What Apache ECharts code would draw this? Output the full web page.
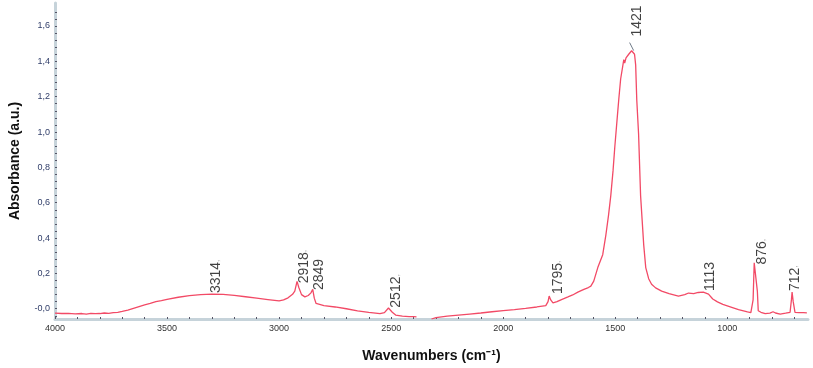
<!DOCTYPE html>
<html>
<head>
<meta charset="utf-8">
<script src="https://cdn.jsdelivr.net/npm/echarts@6/dist/echarts.min.js"></script>
<style>html,body{margin:0;padding:0;background:#fff;}#c{width:813px;height:368px;}</style>
</head>
<body>
<div id="c"></div>
<script>
// wavenumbers (cm-1) and absorbance; null marks the gap in the spectrum
var wavenumbers = [4000,3970,3940,3910,3880,3860,3840,3820,3800,3780,3760,3740,3720,3700,3675,3650,3625,3600,3575,3550,3525,3500,3450,3400,3350,3300,3250,3200,3150,3100,3050,3000,2980,2960,2940,2930,2920,2912,2900,2885,2870,2858,2850,2843,2835,2800,2750,2700,2650,2600,2550,2530,2512,2495,2480,2450,2420,2400,2387,
  2350,
  2320,2300,2250,2200,2150,2100,2050,2000,1950,1900,1850,1810,1800,1795,1788,1778,1760,1740,1711,1690,1667,1640,1620,1609,1596,1578,1556,1542,1530,1520,1510,1502,1490,1484,1476,1467,1462,1458,1452,1445,1440,1432,1427,1421,1414,1409,1404,1396,1387,1380,1373,1364,1351,1338,1320,1293,1260,1218,1190,1173,1150,1130,1107,1084,1065,1044,1020,987,950,910,895,885,880,872,866,862,850,831,810,796,785,764,740,720,714,711,706,698,680,660,645];
var absorbance = [-0.025,-0.027,-0.026,-0.029,-0.027,-0.031,-0.026,-0.028,-0.027,-0.024,-0.026,-0.022,-0.020,-0.015,-0.008,0.002,0.012,0.022,0.030,0.040,0.046,0.053,0.065,0.074,0.080,0.083,0.081,0.076,0.068,0.060,0.052,0.044,0.050,0.062,0.082,0.100,0.155,0.120,0.080,0.067,0.075,0.090,0.110,0.060,0.030,0.018,0.010,0.000,-0.012,-0.020,-0.027,-0.022,0.004,-0.020,-0.036,-0.042,-0.044,-0.045,-0.046,
  null,
  -0.058,-0.050,-0.042,-0.036,-0.030,-0.024,-0.017,-0.011,-0.005,0.002,0.010,0.018,0.040,0.072,0.050,0.033,0.040,0.052,0.067,0.078,0.094,0.110,0.120,0.128,0.156,0.233,0.306,0.417,0.53,0.64,0.78,0.917,1.10,1.19,1.30,1.37,1.41,1.39,1.42,1.43,1.44,1.45,1.46,1.465,1.44,1.38,1.18,0.99,0.64,0.50,0.36,0.233,0.17,0.139,0.118,0.100,0.085,0.072,0.080,0.089,0.085,0.092,0.094,0.083,0.055,0.039,0.025,0.011,-0.005,-0.018,-0.022,0.05,0.26,0.25,0.10,-0.011,-0.020,-0.028,-0.025,-0.017,-0.024,-0.030,-0.025,-0.020,0.05,0.094,0.04,-0.020,-0.022,-0.022,-0.023];

// peak annotations: label text, anchor wavenumber, anchor absorbance, trailing mark
var peakLabels = ['3314','2918','2849','2512','1795','1421','1113','876','712'];
var peakX = [3280,2889,2822,2476,1756,1404,1076,844,698];
var peakY = [0.089,0.144,0.106,0.006,0.083,1.54,0.10,0.25,0.10];
var peakMark = [',',',','',',',',','','',',',','];

// leader line for 1421
var leaderX = [1418,1436];
var leaderY = [1.461,1.506];

var yTickLabels = [0,0.2,0.4,0.6,0.8,1.0,1.2,1.4,1.6];
var xTickLabels = [4000,3500,3000,2500,2000,1500,1000];

var yMinor = [];
for (var v = -0.04; v <= 1.72; v += 0.04) yMinor.push(Math.round(v*100)/100);
var xMinor = [];
for (var w = 700; w <= 4000; w += 100) xMinor.push(w);

var lineData = wavenumbers.map(function(x,i){
  return absorbance[i] === null ? ['-','-'] : [x, absorbance[i]];
});
var labelData = peakLabels.map(function(t,i){ return {value:[peakX[i], peakY[i]], name:t, mark:peakMark[i]}; });

var chart = echarts.init(document.getElementById('c'));
chart.setOption({
  animation: false,
  grid: {left: 52, right: 5, top: 3, bottom: 43},
  xAxis: {
    type: 'value', inverse: true, min: 640, max: 4000,
    name: 'Wavenumbers (cm\u207B\u00B9)', nameLocation: 'middle', nameGap: 30,
    nameTextStyle: {fontFamily: 'Liberation Sans, Arial', fontWeight: 'bold', fontSize: 14, color: '#111'},
    axisLine: {show: true, onZero: false, lineStyle: {color: '#c6d3da', width: 3}},
    axisTick: {show: true, inside: true, length: 2, customValues: xMinor, lineStyle: {color: '#556', width: 1}},
    axisLabel: {customValues: xTickLabels, fontSize: 9, fontFamily: 'Liberation Sans, Arial', color: '#333', margin: 5,
      formatter: function(v){ return String(v); }},
    splitLine: {show: false}
  },
  yAxis: {
    type: 'value', min: -0.058, max: 1.73,
    name: 'Absorbance (a.u.)', nameLocation: 'middle', nameGap: 33,
    nameTextStyle: {fontFamily: 'Liberation Sans, Arial', fontWeight: 'bold', fontSize: 14, color: '#111'},
    axisLine: {show: true, onZero: false, lineStyle: {color: '#c6d3da', width: 3}},
    axisTick: {show: true, inside: true, length: 2, customValues: yMinor, lineStyle: {color: '#556', width: 1}},
    axisLabel: {customValues: yTickLabels, fontSize: 9, fontFamily: 'Liberation Sans, Arial', color: '#33406b', margin: 5,
      formatter: function(v){ return v === 0 ? '-0,0' : v.toFixed(1).replace('.', ','); }},
    splitLine: {show: false}
  },
  series: [
    {type: 'line', data: lineData, showSymbol: false, connectNulls: false,
     lineStyle: {color: '#f24a66', width: 1.3}, z: 3},
    {type: 'line', data: leaderX.map(function(x,i){return [x, leaderY[i]];}), showSymbol: false,
     lineStyle: {color: '#6f7a88', width: 1}, z: 4},
    {type: 'scatter', data: labelData, symbolSize: 0, z: 5,
     label: {show: true, position: 'inside', rotate: 90, align: 'left', verticalAlign: 'middle',
       formatter: function(p){ return '{a|' + p.data.name + '}' + (p.data.mark ? '{b|' + p.data.mark + '}' : ''); },
       rich: {
         a: {fontFamily: 'Liberation Sans, Arial', fontSize: 14, color: '#111'},
         b: {fontFamily: 'Liberation Sans, Arial', fontSize: 9, color: '#aaa'}
       }}}
  ]
});
</script>
</body>
</html>
